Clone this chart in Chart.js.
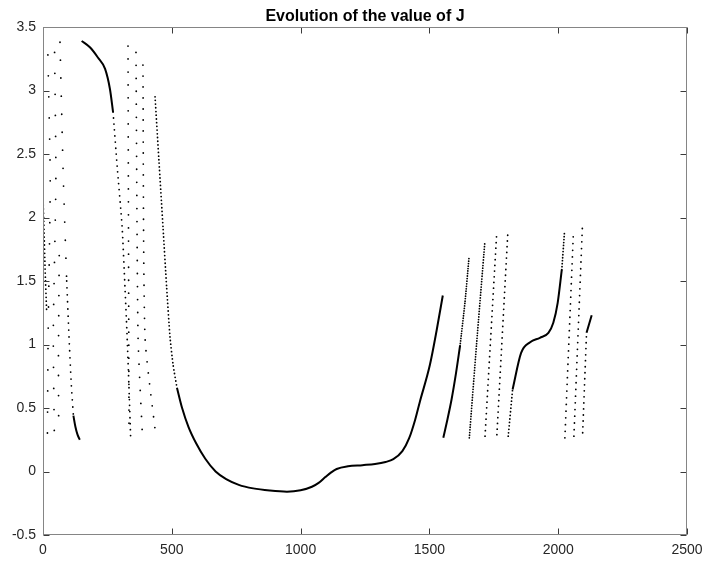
<!DOCTYPE html>
<html>
<head>
<meta charset="utf-8">
<script src="https://cdn.jsdelivr.net/npm/chart.js@4.4.0/dist/chart.umd.min.js"></script>
<style>
  html, body { margin: 0; padding: 0; background: #fff; }
  #wrap { width: 706px; height: 562px; }
</style>
</head>
<body>
<div id="wrap"><canvas id="jChart" width="706" height="562"></canvas></div>
<script>
const chartTitle = 'Evolution of the value of J';
const xTicks = [0, 500, 1000, 1500, 2000, 2500];
const yTicks = [-0.5, 0, 0.5, 1, 1.5, 2, 2.5, 3, 3.5];

// [iteration, J], one array per visible trace
const startDense = [[0, 2.16], [4, 1.9], [8, 1.6], [14, 1.27]];
const startCol1 = [[19, 3.28], [28, 2.3], [20, 1.1], [17, 0.25]];
const startCol2 = [[45, 3.3], [50, 2.3], [40, 1.1], [44, 0.28]];
const startCol3 = [[63, 1.7], [60, 0.9], [61, 0.3]];
const fallTop = [[66, 3.38], [79, 2.3], [92, 1.5]];
const fallLow = [[92, 1.5], [101, 1.06], [110, 0.68], [118, 0.44]];
const fallEnd = [[118, 0.44], [126, 0.35], [134, 0.29], [143, 0.25]];

const bigTop = [[150, 3.39], [182, 3.34], [213, 3.26], [241, 3.17], [260, 3.01], [272, 2.83]];
const bigDrop = [[272, 2.83], [288, 2.4], [307, 1.93], [318, 1.46], [326, 1.09], [334, 0.65], [340, 0.28]];
const midCol1 = [[330, 3.35], [334, 0.28]];
const midCol2 = [[361, 3.3], [369, 1.06], [386, 0.28]];
const midCol3 = [[388, 3.2], [396, 1.06], [438, 0.28]];
const bowlDrop = [[435, 2.95], [450, 2.45], [466, 1.92], [480, 1.45], [493, 1.06], [505, 0.84], [520, 0.66]];
const bowl = [[520, 0.66], [540, 0.5], [565, 0.35], [595, 0.22], [630, 0.1], [670, 0.0], [711, -0.06],
  [760, -0.105], [816, -0.133], [880, -0.15], [947, -0.159], [1000, -0.148], [1044, -0.12],
  [1070, -0.09], [1096, -0.044], [1120, -0.005], [1140, 0.02], [1184, 0.041], [1240, 0.05], [1289, 0.059],
  [1330, 0.075], [1360, 0.097], [1395, 0.16], [1421, 0.26], [1445, 0.41], [1463, 0.55], [1502, 0.84],
  [1528, 1.11], [1552, 1.386]];

const rise1Solid = [[1554, 0.265], [1570, 0.41], [1586, 0.567], [1603, 0.77], [1619, 0.99]];
const rise1Dots = [[1619, 0.99], [1638, 1.33], [1654, 1.69]];
const rise2 = [[1655, 0.265], [1683, 1.0], [1715, 1.8]];
const rise3 = [[1716, 0.278], [1761, 1.866]];
const rise4 = [[1762, 0.29], [1805, 1.9]];
const step1Dots = [[1806, 0.278], [1823, 0.646]];
const step1 = [[1823, 0.646], [1856, 0.934], [1891, 1.018], [1929, 1.053], [1962, 1.092], [1981, 1.171],
  [1998, 1.328], [2014, 1.59]];
const step1Top = [[2014, 1.59], [2024, 1.874]];
const rise5 = [[2026, 0.265], [2059, 1.88]];
const rise6 = [[2061, 0.278], [2094, 1.93]];
const endDots = [[2095, 0.305], [2110, 1.092]];
const endSolid = [[2110, 1.092], [2130, 1.231]];

document.addEventListener("DOMContentLoaded", () => {

  // style per trace: 0 = solid line, otherwise dots with that spacing (px)
  const traces = [
    [startDense, 4], [startCol1, 21], [startCol2, 21], [startCol3, 20],
    [fallTop, 18], [fallLow, 7], [fallEnd, 0],
    [bigTop, 0], [bigDrop, 6], [midCol1, 13], [midCol2, 13], [midCol3, 11],
    [bowlDrop, 3.7], [bowl, 0],
    [rise1Solid, 0], [rise1Dots, 2.5], [rise2, 2.7], [rise3, 5.7], [rise4, 5.7],
    [step1Dots, 3.5], [step1, 0], [step1Top, 3], [rise5, 6.7], [rise6, 6.7],
    [endDots, 6], [endSolid, 0]
  ];

  const datasets = traces.map(([pts, gap]) => {
    const ds = {
      data: pts.map(([x, y]) => ({x, y})),
      showLine: true,
      pointRadius: 0,
      borderColor: '#000',
      borderJoinStyle: 'round'
    };
    if (gap) {
      ds.borderWidth = 1.8;
      ds.borderDash = [0, gap];
      ds.borderCapStyle = 'round';
      ds.tension = 0.2;
    } else {
      ds.borderWidth = 2;
      ds.cubicInterpolationMode = 'monotone';
    }
    return ds;
  });

  const fontFamily = '"Liberation Sans", Arial, Helvetica, sans-serif';

  // box round the plot, inward ticks on all four sides, title over the plot centre
  const framePlugin = {
    id: 'frame',
    afterDatasetsDraw(chart) {
      const {ctx, chartArea: a, scales: {x, y}} = chart;
      const L = Math.round(a.left) + 0.5, R = Math.round(a.right) - 0.5;
      const T = Math.round(a.top) + 0.5, B = Math.round(a.bottom) - 0.5;
      ctx.save();
      ctx.strokeStyle = '#3a3a3a';
      ctx.lineWidth = 1;
      ctx.beginPath();
      xTicks.forEach(v => {
        const px = Math.round(x.getPixelForValue(v)) + 0.5;
        ctx.moveTo(px, B); ctx.lineTo(px, B - 6);
        ctx.moveTo(px, T); ctx.lineTo(px, T + 6);
      });
      yTicks.forEach(v => {
        const py = Math.round(y.getPixelForValue(v)) + 0.5;
        ctx.moveTo(L, py); ctx.lineTo(L + 6, py);
        ctx.moveTo(R, py); ctx.lineTo(R - 6, py);
      });
      ctx.stroke();
      ctx.strokeStyle = '#858585';
      ctx.strokeRect(L, T, R - L, B - T);

      ctx.fillStyle = '#000';
      ctx.font = `bold 16px ${fontFamily}`;
      ctx.textAlign = 'center';
      ctx.textBaseline = 'alphabetic';
      ctx.fillText(chartTitle, (a.left + a.right) / 2, 21);
      ctx.restore();
    }
  };

  const tickFont = {family: fontFamily, size: 14};

  new Chart(document.getElementById('jChart').getContext('2d'), {
    type: 'scatter',
    data: {datasets},
    plugins: [framePlugin],
    options: {
      responsive: false,
      animation: false,
      layout: {padding: {left: 0, right: 19, top: 27, bottom: 0}},
      plugins: {
        legend: {display: false},
        tooltip: {enabled: false},
        title: {display: false}
      },
      scales: {
        x: {
          type: 'linear',
          min: 0,
          max: 2500,
          grid: {display: false, drawTicks: false},
          border: {display: false},
          afterBuildTicks: s => { s.ticks = xTicks.map(v => ({value: v})); },
          afterFit: s => { s.height = 27; s.paddingLeft = 0; s.paddingRight = 0; },
          ticks: {color: '#262626', font: tickFont, padding: 7, maxRotation: 0, callback: v => String(v)}
        },
        y: {
          type: 'linear',
          min: -0.5,
          max: 3.5,
          grid: {display: false, drawTicks: false},
          border: {display: false},
          afterBuildTicks: s => { s.ticks = yTicks.map(v => ({value: v})); },
          afterFit: s => { s.width = 43; s.paddingTop = 0; s.paddingBottom = 0; },
          ticks: {color: '#262626', font: tickFont, padding: 7, callback: v => String(v)}
        }
      }
    }
  });

});
</script>
</body>
</html>
